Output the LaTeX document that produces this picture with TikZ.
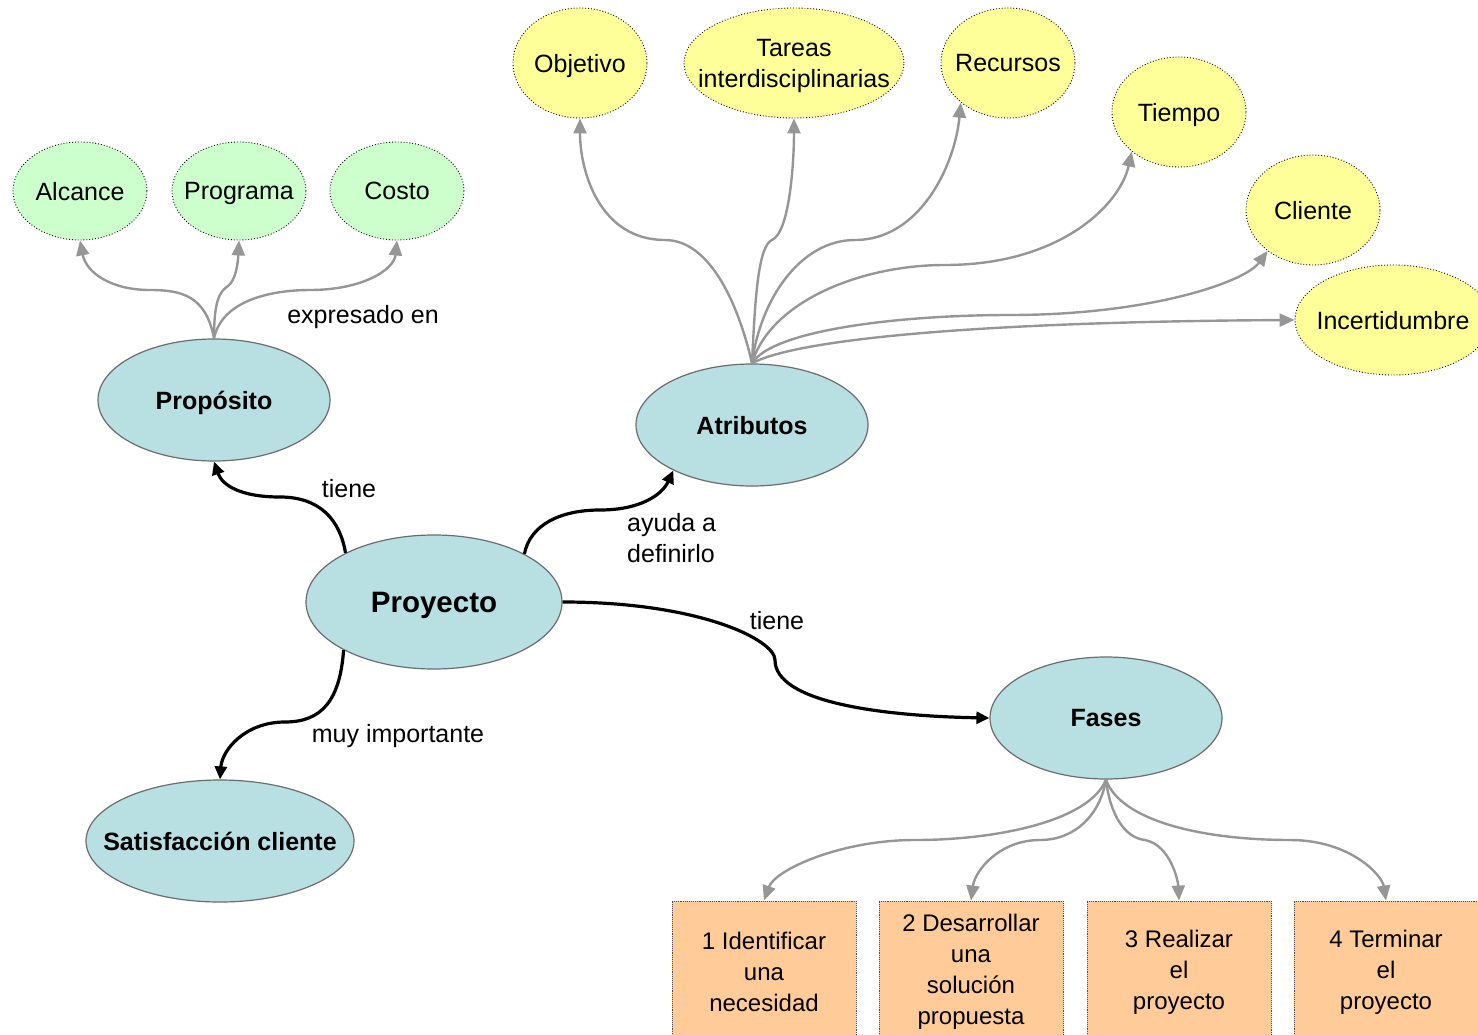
\documentclass[tikz,border=0pt]{standalone}
\usepackage{fontspec}
\setmainfont{Liberation Sans}
\usetikzlibrary{shapes.geometric,arrows.meta}
\definecolor{bluefill}{RGB}{184,223,226}
\definecolor{greenfill}{RGB}{204,255,204}
\definecolor{yellowfill}{RGB}{255,255,153}
\definecolor{orangefill}{RGB}{255,204,153}
\definecolor{linkgray}{RGB}{150,150,150}
\newcommand{\regfont}{\fontsize{25}{31}\selectfont}
\newcommand{\boxfont}{\fontsize{24}{31}\selectfont}
\tikzset{
  mainnode/.style={ellipse, fill=bluefill, draw=gray!85!black, line width=1.2pt, inner xsep=-30pt, inner ysep=-10pt,
     text depth=0pt, font=\fontsize{25}{31}\selectfont\bfseries, minimum width=232pt, minimum height=122pt},
  greennode/.style={ellipse, fill=greenfill, draw=black, dotted, line width=0.9pt, inner xsep=-30pt, inner ysep=-10pt,
     text depth=0pt, font=\regfont, minimum width=134pt, minimum height=98pt},
  yellownode/.style={ellipse, fill=yellowfill, draw=black, dotted, line width=0.9pt, inner xsep=-30pt, inner ysep=-10pt,
     text depth=0pt, font=\regfont, minimum width=134pt, minimum height=110pt, align=center},
  phasebox/.style={rectangle, fill=orangefill, draw=black!70, densely dotted, line width=0.9pt,
     font=\boxfont, minimum width=184pt, minimum height=142pt, align=center, inner sep=0pt},
  graylink/.style={draw=linkgray, line width=2.4pt, -{Triangle[length=15pt,width=13pt]}},
  blacklink/.style={draw=black, line width=3.2pt, -{Triangle[length=13pt,width=12pt]}},
  linklabel/.style={font=\regfont, inner sep=0pt, text depth=0pt}
}
\begin{document}
\begin{tikzpicture}[x=1pt,y=-1pt]
\useasboundingbox (0,0) rectangle (1478,1035);
% main nodes
\node[mainnode] (prop) at (214,400) {Propósito};
\node[mainnode] (atr) at (752,425) {Atributos};
\node[mainnode, minimum width=256pt, minimum height=134pt, font=\fontsize{29.5}{35}\selectfont\bfseries] (proy) at (434,602) {Proyecto};
\node[mainnode] (fas) at (1106,718) {Fases};
\node[mainnode, minimum width=268pt] (sat) at (220,841) {Satisfacción cliente};
% green
\node[greennode] (alc) at (80,191) {Alcance};
\node[greennode] (prg) at (239,191) {Programa};
\node[greennode] (cos) at (397,191) {Costo};
% yellow
\node[yellownode] (obj) at (580,63) {Objetivo};
\node[yellownode, minimum width=220pt] (tar) at (794,63) {Tareas\\interdisciplinarias};
\node[yellownode] (rec) at (1008,63) {Recursos};
\node[yellownode] (tie) at (1179,112) {Tiempo};
\node[yellownode] (cli) at (1313,210) {Cliente};
\node[yellownode, minimum width=196pt] (inc) at (1393,320) {Incertidumbre};
% boxes
\node[phasebox] (b1) at (764,972) {1 Identificar\\una\\necesidad};
\node[phasebox] (b2) at (971,972) {2 Desarrollar\\una\\solución\\propuesta};
\node[phasebox] (b3) at (1179,972) {3 Realizar\\el\\proyecto};
\node[phasebox] (b4) at (1386,972) {4 Terminar\\el\\proyecto};
% Proposito links
\draw[graylink] (prop.north) .. controls (206,296) and (182,290) .. (150,290) .. controls (110,290) and (86,272) .. (alc.south);
\draw[graylink] (prop.north) .. controls (214,302) and (219,292) .. (228,286) .. controls (236,280) and (238,262) .. (prg.south);
\draw[graylink] (prop.north) .. controls (222,300) and (272,290) .. (310,290) .. controls (362,290) and (394,270) .. (cos.south);
\node[linklabel] (lexp) at (363,314) {expresado en};
% Atributos links
\draw[graylink] (atr.north) .. controls (740,310) and (712,240) .. (665,240) .. controls (600,240) and (580,172) .. (obj.south);
\draw[graylink] (atr.north) .. controls (755,300) and (758,246) .. (772,240) .. controls (790,232) and (794,160) .. (tar.south);
\draw[graylink] (atr.north) .. controls (760,300) and (800,240) .. (855,240) .. controls (920,240) and (955,165) .. (rec.-140);
\draw[graylink] (atr.north) .. controls (770,302) and (860,265) .. (945,265) .. controls (1060,265) and (1120,205) .. (tie.-140);
\draw[graylink] (atr.north) .. controls (772,330) and (900,315) .. (1010,315) .. controls (1150,315) and (1245,282) .. (cli.-138);
\draw[graylink] (atr.north) .. controls (790,342) and (950,322) .. (inc.west);
% Fases links
\draw[graylink] (fas.south) .. controls (1090,820) and (1000,840) .. (915,840) .. controls (840,840) and (775,870) .. (b1.north);
\draw[graylink] (fas.south) .. controls (1100,815) and (1075,840) .. (1040,840) .. controls (1000,840) and (975,870) .. (b2.north);
\draw[graylink] (fas.south) .. controls (1110,815) and (1125,838) .. (1145,840) .. controls (1170,845) and (1178,880) .. (b3.north);
\draw[graylink] (fas.south) .. controls (1120,820) and (1200,840) .. (1290,840) .. controls (1350,840) and (1382,875) .. (b4.north);
% Proyecto links
\draw[blacklink] (proy.151) .. controls (340,520) and (320,497) .. (280,497) .. controls (240,497) and (222,485) .. (prop.south);
\draw[blacklink] (proy.28) .. controls (530,525) and (560,510) .. (600,510) .. controls (640,510) and (662,495) .. (atr.-150);
\draw[blacklink] (proy.east) .. controls (700,602) and (775,640) .. (775,660) .. controls (775,702) and (880,716) .. (fas.west);
\draw[blacklink] (proy.208) .. controls (340,700) and (322,722) .. (285,722) .. controls (245,722) and (222,750) .. (sat.north);
\node[linklabel] (lt1) at (349,488) {tiene};
\node[linklabel, anchor=west, align=left] (lay) at (627,538) {ayuda a\\definirlo};
\node[linklabel] (lt2) at (777,620) {tiene};
\node[linklabel] (lmuy) at (398,733) {muy importante};
\end{tikzpicture}
\end{document}
